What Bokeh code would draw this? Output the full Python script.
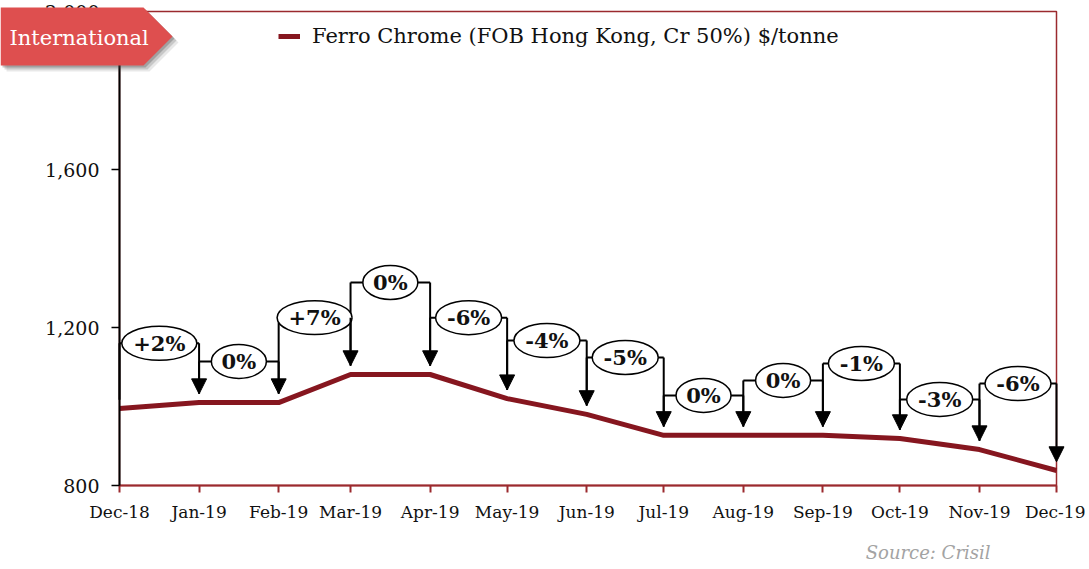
import pandas as pd
from bokeh.plotting import figure
from bokeh.models import (Range1d, FixedTicker, DatetimeTickFormatter, NumeralTickFormatter,
                          ColumnDataSource, Arrow, NormalHead, Label, PolyAnnotation, BoxAnnotation)
from bokeh.core.properties import value
from bokeh.embed import file_html
from bokeh.resources import INLINE

# ---------------- data ----------------
months = ["2018-12-01", "2019-01-01", "2019-02-01", "2019-03-01", "2019-04-01", "2019-05-01",
          "2019-06-01", "2019-07-01", "2019-08-01", "2019-09-01", "2019-10-01", "2019-11-01",
          "2019-12-01"]
prices = [995, 1010, 1010, 1081, 1081, 1020, 980, 927, 927, 927, 919, 891, 838]
changes = ["+2%", "0%", "+7%", "0%", "-6%", "-4%", "-5%", "0%", "0%", "-1%", "-3%", "-6%"]
callout_levels = [1160, 1114, 1225, 1314, 1225, 1167, 1124, 1028, 1066, 1109, 1018, 1058]
series_name = "Ferro Chrome (FOB Hong Kong, Cr 50%) $/tonne"
y_ticks = [800, 1200, 1600, 2000]
badge_text = "International"
source_text = "Source: Crisil"

# ---------------- layout ----------------
W, H = 1085, 565
AX_L, AX_R, AX_B, AX_T = 119, 1056, 485, 11   # pixel edges of the data area
xs = [pd.Timestamp(m).value / 1e6 for m in months]
mids = [(xs[i] + xs[i + 1]) / 2 for i in range(len(xs) - 1)]
span = xs[-1] - xs[0]
ms_per_px = span / (AX_R - AX_L)
y_lo, y_hi = y_ticks[0], y_ticks[-1]
u_per_px = (y_hi - y_lo) / (AX_B - AX_T)
x_range = Range1d(xs[0] - AX_L * ms_per_px, xs[-1] + (W - AX_R) * ms_per_px)
y_range = Range1d(y_lo - (H - AX_B) * u_per_px, y_hi + AX_T * u_per_px)
gap = 22  # arrow tip stands a little above the point

FONT = "DejaVu Serif"
RED = "#86161F"
AXRED = "#9B2A2E"

p = figure(width=W, height=H, x_axis_type="datetime", output_backend="svg",
           toolbar_location=None, x_range=x_range, y_range=y_range, min_border=0)
p.xgrid.visible = False
p.ygrid.visible = False
p.outline_line_color = None
p.background_fill_color = "white"
p.border_fill_color = "white"

# frame of the data area (top & right red lines)
p.add_layout(BoxAnnotation(left=xs[0], right=xs[-1], bottom=y_lo, top=y_hi,
                           fill_alpha=0, line_color=AXRED, line_alpha=1, line_width=1.5,
                           level="underlay"))

# y axis
p.yaxis.fixed_location = xs[0]
p.yaxis.bounds = (y_lo, y_hi)
p.yaxis.ticker = FixedTicker(ticks=y_ticks)
p.yaxis.formatter = NumeralTickFormatter(format="0,0")
p.yaxis.axis_line_color = "black"
p.yaxis.axis_line_width = 2
p.yaxis.major_tick_line_color = "black"
p.yaxis.major_tick_line_width = 1.5
p.yaxis.major_tick_out = 8
p.yaxis.major_tick_in = 0
p.yaxis.minor_tick_line_color = None
p.yaxis.major_label_text_font = FONT
p.yaxis.major_label_text_font_size = "19px"
p.yaxis.major_label_text_color = "#111111"
p.yaxis.major_label_standoff = 12

# x axis
p.xaxis.fixed_location = y_lo
p.xaxis.bounds = (xs[0], xs[-1])
p.xaxis.ticker = FixedTicker(ticks=xs)
fmt = "%b-%y"
p.xaxis.formatter = DatetimeTickFormatter(milliseconds=fmt, seconds=fmt, minsec=fmt, minutes=fmt,
                                          hourmin=fmt, hours=fmt, days=fmt, months=fmt, years=fmt)
p.xaxis.axis_line_color = AXRED
p.xaxis.axis_line_width = 2
p.xaxis.major_tick_line_color = AXRED
p.xaxis.major_tick_line_width = 2
p.xaxis.major_tick_out = 7
p.xaxis.major_tick_in = 0
p.xaxis.minor_tick_line_color = None
p.xaxis.major_label_text_font = FONT
p.xaxis.major_label_text_font_size = "17px"
p.xaxis.major_label_text_color = "#111111"
p.xaxis.major_label_standoff = 9

# series
p.line(xs, prices, line_color=RED, line_width=5, legend_label=series_name)

leg = p.legend[0]
leg.location = (278, H - 48)
leg.border_line_color = None
leg.background_fill_alpha = 0
leg.padding = 0
leg.margin = 0
leg.glyph_width = 22
leg.label_standoff = 12
leg.label_text_font = FONT
leg.label_text_font_size = "21px"
leg.label_text_color = "#111111"

# callouts
p.segment(x0=xs[:-1], y0=callout_levels, x1=xs[1:], y1=callout_levels,
          line_color="black", line_width=2)
p.segment(x0=xs[:-1], y0=callout_levels, x1=xs[:-1],
          y1=[prices[i] + gap for i in range(len(changes))], line_color="black", line_width=2)
arrow_src = ColumnDataSource(dict(x0=xs[1:], y0=callout_levels, x1=xs[1:],
                                  y1=[prices[i + 1] + gap for i in range(len(changes))]))
p.add_layout(Arrow(source=arrow_src, x_start="x0", y_start="y0", x_end="x1", y_end="y1",
                   line_color="black", line_width=2,
                   end=NormalHead(size=15, fill_color="black", line_color="black")))

widths = [55 if len(c) == 2 else (75 if c.startswith("+") else 66) for c in changes]
p.ellipse(x=mids, y=callout_levels, width=widths, height=[34] * len(changes),
          width_units="screen", height_units="screen",
          fill_color="white", line_color="black", line_width=1.5)
p.text(x=mids, y=callout_levels, text=changes, text_align="center", text_baseline="middle",
       text_font=value(FONT), text_font_style="bold", text_font_size="21px", text_color="#111111")

# badge
bx = [0, 143, 172, 143, 0]
by = [7, 7, 36, 65, 65]
for off, alpha in [(6, 0.12), (4, 0.2), (2, 0.3)]:
    p.add_layout(PolyAnnotation(xs=[v + off for v in bx], ys=[v + off for v in by],
                                xs_units="canvas", ys_units="canvas",
                                fill_color="#444444", fill_alpha=alpha, line_color=None))
p.add_layout(PolyAnnotation(xs=bx, ys=by, xs_units="canvas", ys_units="canvas",
                            fill_color="#DE4F4F", fill_alpha=1, line_color=None))
p.add_layout(Label(x=9, y=H - 37, x_units="screen", y_units="screen", text=badge_text,
                   text_color="white", text_font=FONT, text_font_size="21px",
                   text_baseline="middle"))

p.add_layout(Label(x=990, y=H - 552, x_units="screen", y_units="screen", text=source_text,
                   text_color="#A3A3A3", text_font=FONT, text_font_style="italic",
                   text_font_size="18px", text_align="right", text_baseline="middle"))

open("out.html", "w").write(file_html(p, INLINE))
